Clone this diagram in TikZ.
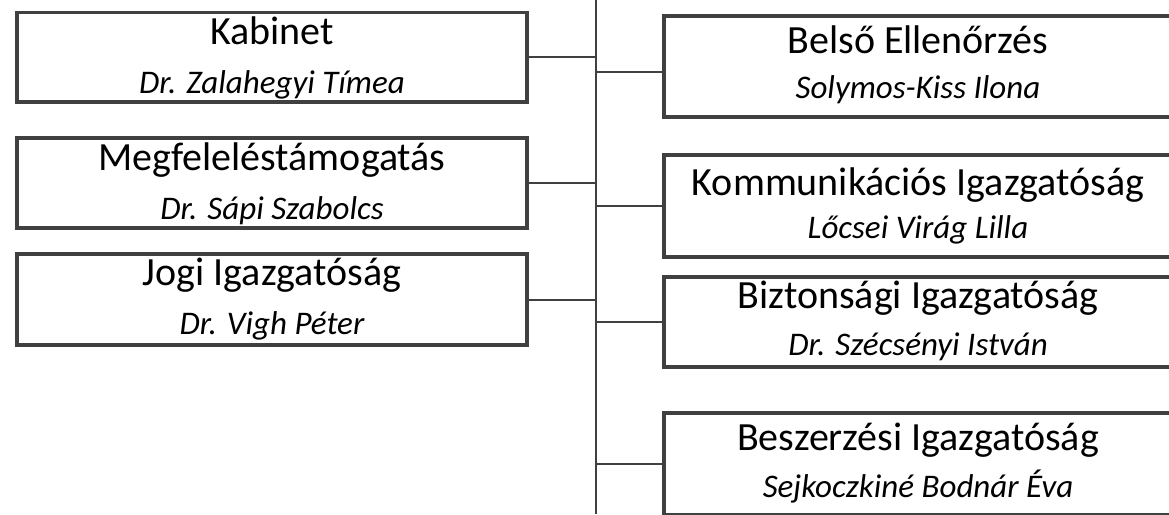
\documentclass[tikz,border=0pt]{standalone}
\usepackage{fontspec}
\setmainfont{Carlito}
\usepackage{xcolor}
\usepackage{tikz}
\usetikzlibrary{calc}

\definecolor{boxgray}{HTML}{404040}

\begin{document}
\begin{tikzpicture}[x=1pt,y={(0pt,-1pt)}]
% \tikzstyle{every path}=[very thick]

\tikzstyle{unit}=[draw=boxgray,line width=3.6pt,inner sep=0pt,fill=white]
\tikzstyle{leftunit}=[unit,minimum width=510pt]
\tikzstyle{rightunit}=[unit,minimum width=508pt]
\tikzstyle{ttl}=[anchor=base,inner sep=0pt,font=\fontsize{40}{46}\selectfont]
\tikzstyle{nm}=[anchor=base,inner sep=0pt,font=\fontsize{33}{38}\selectfont\itshape]
\tikzstyle{link}=[draw=boxgray,line width=2pt]

\useasboundingbox (0,0) rectangle (1169,514);
\clip (0,0) rectangle (1169,514);

%% Trunk
\coordinate (trunkTop) at (596,0);
\coordinate (trunkBot) at (596,514);
\draw[link] (trunkTop) -- (trunkBot);

%% Left column
\node[leftunit,minimum height=89.5pt] (kab) at (272,57.25) {};
\node[ttl] (kabT) at ([yshift=-34pt]kab.north) {Kabinet};
\node[nm] (kabN) at ([yshift=-82.5pt]kab.north) {Dr. Zalahegyi Tímea};

\node[leftunit,minimum height=90pt] (meg) at (272,183) {};
\node[ttl] (megT) at ([yshift=-34pt]meg.north) {Megfeleléstámogatás};
\node[nm] (megN) at ([yshift=-83pt]meg.north) {Dr. Sápi Szabolcs};

\node[leftunit,minimum height=91pt] (jog) at (272,299.5) {};
\node[ttl] (jogT) at ([yshift=-33pt]jog.north) {Jogi Igazgatóság};
\node[nm] (jogN) at ([yshift=-82pt]jog.north) {Dr. Vigh Péter};

%% Right column
\node[rightunit,minimum height=101pt] (bel) at (918,66.5) {};
\node[ttl] (belT) at ([yshift=-39pt]bel.north) {Belső Ellenőrzés};
\node[nm] (belN) at ([yshift=-84pt]bel.north) {Solymos-Kiss Ilona};

\node[rightunit,minimum height=102pt] (kom) at (918,206) {};
\node[ttl] (komT) at ([yshift=-42pt]kom.north) {Kommunikációs Igazgatóság};
\node[nm] (komN) at ([yshift=-85pt]kom.north) {Lőcsei Virág Lilla};

\node[rightunit,minimum height=90pt] (biz) at (918,322) {};
\node[ttl] (bizT) at ([yshift=-33pt]biz.north) {Biztonsági Igazgatóság};
\node[nm] (bizN) at ([yshift=-80pt]biz.north) {Dr. Szécsényi István};

\node[rightunit,minimum height=102pt] (bes) at (918,464) {};
\node[ttl] (besT) at ([yshift=-39pt]bes.north) {Beszerzési Igazgatóság};
\node[nm] (besN) at ([yshift=-86pt]bes.north) {Sejkoczkiné Bodnár Éva};

%% Connectors
\draw[link] (kab.east) -- (kab.east -| trunkTop);
\draw[link] (meg.east) -- (meg.east -| trunkTop);
\draw[link] (jog.east) -- (jog.east -| trunkTop);
\draw[link] ([yshift=-5.5pt]bel.west -| trunkTop) -- ([yshift=-5.5pt]bel.west);
\draw[link] (kom.west -| trunkTop) -- (kom.west);
\draw[link] (biz.west -| trunkTop) -- (biz.west);
\draw[link] (bes.west -| trunkTop) -- (bes.west);

\end{tikzpicture}
\end{document}
